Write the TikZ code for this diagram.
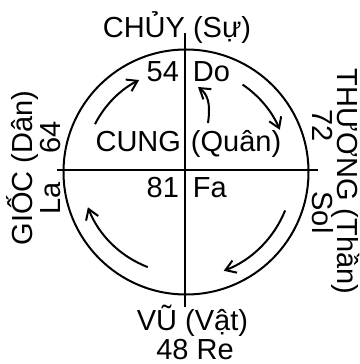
\documentclass[tikz,border=0pt]{standalone}
\usepackage{fontspec}
\setmainfont{Liberation Sans}
\usepackage{tikz}
\usetikzlibrary{arrows.meta, positioning}

\begin{document}
\begin{tikzpicture}[x=0.5pt, y=0.5pt, line width=1pt,
    >={Straight Barb[length=5pt, width=6.5pt]},
    nhan/.style={inner sep=0pt, font=\fontsize{14.5}{16}\selectfont}]
    \useasboundingbox (-185,-194) rectangle (174,170);
    \coordinate (O) at (0,0);

    % 1. Vòng tròn và hai trục
    \draw (1,-2) circle [radius=122.5];
    \draw (-128,0) -- (133,0);
    \draw (0,137) -- (0,-137);

    % 2. Các cung mũi tên (chiều kim đồng hồ)
    \foreach \a/\b/\r in {153/117/101, 56/23/103, -22/-69/108, 249/201/104} {
        \draw[->] ([shift={(\a:\r)}]O) arc [start angle=\a, end angle=\b, radius=\r];
    }
    \draw[->] (23,47) .. controls (26,68) and (22,76) .. (13,83);

    % 3. Chữ trong vòng tròn
    \node[nhan, anchor=base east] (n54) at (-5,88) {54};
    \node[nhan, anchor=base west] (do) at (7,88) {Do};
    \node[nhan, anchor=base east] (cung) at (-3,18) {CUNG};
    \node[nhan, anchor=base west] (quan) at (5,18) {(Quân)};
    \node[nhan, anchor=base east] (n81) at (-5,-28) {81};
    \node[nhan, anchor=base west] (fa) at (7,-28) {Fa};

    % 4. Chữ quanh vòng tròn
    \node[nhan, anchor=base] (chuy) at (-8,132) {CHỦY (Sự)};
    \node[nhan, anchor=base] (vu) at (7.5,-160) {VŨ (Vật)};
    \node[nhan, anchor=base] (re) at (10,-189) {48 Re};
    \node[nhan, anchor=base, rotate=90] (gioc) at (-152,2) {GIỐC (Dân)};
    \node[nhan, anchor=base, rotate=90] (la) at (-124,-28.5) {La};
    \node[nhan, anchor=base, rotate=90] (n64) at (-124,33) {64};
    \node[nhan, anchor=base, rotate=-90] (thuong) at (152,-11.5) {THƯƠNG (Thần)};
    \node[nhan, anchor=base, rotate=-90] (n72) at (127,44) {72};
    \node[nhan, anchor=base, rotate=-90] (sol) at (127,-42.5) {Sol};
\end{tikzpicture}
\end{document}
